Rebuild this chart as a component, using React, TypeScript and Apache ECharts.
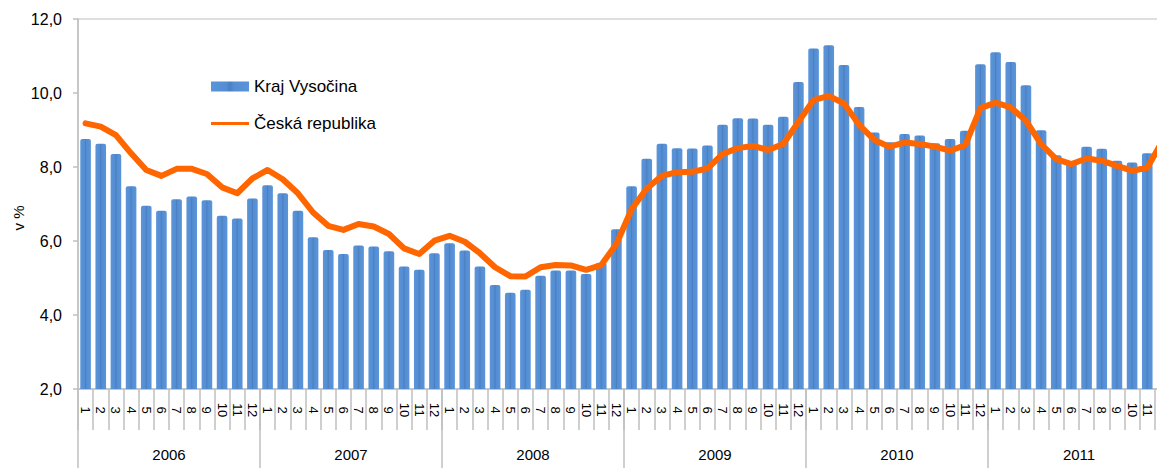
import React, { useEffect, useRef } from "react";
import * as echarts from "echarts";

const years = ["2006", "2007", "2008", "2009", "2010", "2011"];
const monthLabels = ["1", "2", "3", "4", "5", "6", "7", "8", "9", "10", "11", "12"];

const krajVysocina2006 = [8.76, 8.63, 8.35, 7.48, 6.95, 6.82, 7.13, 7.2, 7.1, 6.68, 6.61, 7.15];
const krajVysocina2007 = [7.51, 7.29, 6.82, 6.1, 5.76, 5.65, 5.88, 5.85, 5.72, 5.31, 5.22, 5.67];
const krajVysocina2008 = [5.94, 5.74, 5.31, 4.81, 4.6, 4.68, 5.06, 5.2, 5.2, 5.11, 5.41, 6.32];
const krajVysocina2009 = [7.48, 8.22, 8.63, 8.51, 8.5, 8.58, 9.14, 9.32, 9.31, 9.14, 9.36, 10.3];
const krajVysocina2010 = [11.2, 11.29, 10.76, 9.62, 8.93, 8.67, 8.89, 8.85, 8.64, 8.76, 8.98, 10.78];
const krajVysocina2011 = [11.1, 10.84, 10.21, 8.99, 8.32, 8.1, 8.55, 8.49, 8.17, 8.12, 8.37, 9.2];

const ceskaRepublika2006 = [9.18, 9.09, 8.86, 8.37, 7.92, 7.76, 7.95, 7.95, 7.81, 7.45, 7.29, 7.69];
const ceskaRepublika2007 = [7.92, 7.67, 7.29, 6.77, 6.41, 6.3, 6.46, 6.39, 6.19, 5.8, 5.65, 6.01];
const ceskaRepublika2008 = [6.14, 5.98, 5.67, 5.29, 5.05, 5.04, 5.29, 5.35, 5.34, 5.22, 5.35, 5.92];
const ceskaRepublika2009 = [6.86, 7.42, 7.76, 7.86, 7.87, 7.96, 8.35, 8.51, 8.57, 8.46, 8.62, 9.22];
const ceskaRepublika2010 = [9.81, 9.92, 9.72, 9.14, 8.73, 8.55, 8.66, 8.62, 8.55, 8.44, 8.59, 9.59];
const ceskaRepublika2011 = [9.74, 9.61, 9.25, 8.62, 8.21, 8.08, 8.23, 8.17, 8.03, 7.9, 7.98, 8.7];

const yTicks = { min: 2, max: 12, interval: 2 };

const krajVysocina = [
  ...krajVysocina2006, ...krajVysocina2007, ...krajVysocina2008,
  ...krajVysocina2009, ...krajVysocina2010, ...krajVysocina2011,
];
const ceskaRepublika = [
  ...ceskaRepublika2006, ...ceskaRepublika2007, ...ceskaRepublika2008,
  ...ceskaRepublika2009, ...ceskaRepublika2010, ...ceskaRepublika2011,
];
const months = years.flatMap((y) => monthLabels.map((m) => `${y}-${m}`));

const FONT = "'Liberation Sans', Arial, sans-serif";
const GRAY = "#bfbfbf";

export default function App() {
  const ref = useRef<HTMLDivElement>(null);
  useEffect(() => {
    if (!ref.current) return;
    const chart = echarts.init(ref.current, null, { renderer: "svg" });
    chart.setOption({
      animation: false,
      backgroundColor: "#ffffff",
      textStyle: { fontFamily: FONT },
      grid: {
        left: 78,
        right: 10,
        top: 19,
        bottom: 79,
        show: true,
        borderColor: GRAY,
        borderWidth: 1,
        outerBoundsMode: "none",
      },
      legend: {
        orient: "vertical",
        left: 211,
        top: 78,
        padding: 0,
        itemWidth: 38,
        itemHeight: 10,
        itemGap: 20,
        textStyle: { fontSize: 17, color: "#000", fontFamily: FONT },
        data: [
          { name: "Kraj Vysočina", icon: "rect" },
          { name: "Česká republika", icon: "path://M0,0 L40,0 L40,3.4 L0,3.4 Z" },
        ],
      },
      xAxis: [
        {
          type: "category",
          data: months,
          position: "bottom",
          axisLine: { show: true, lineStyle: { color: GRAY, width: 1.5 } },
          axisTick: {
            show: true,
            interval: 0,
            length: 41,
            lineStyle: { color: GRAY, width: 1.5 },
          },
          axisLabel: {
            interval: (index: number) => index < months.length - 1,
            rotate: -90,
            align: "center",
            verticalAlign: "middle",
            margin: 21,
            fontSize: 13,
            color: "#000",
            fontFamily: FONT,
            formatter: (v: string) => v.split("-")[1],
          },
          splitLine: { show: false },
        },
        {
          type: "category",
          data: years,
          position: "bottom",
          axisLine: { show: false },
          axisTick: {
            show: true,
            interval: 0,
            length: 80,
            lineStyle: { color: GRAY, width: 1.5 },
          },
          axisLabel: {
            interval: 0,
            margin: 58,
            fontSize: 15,
            color: "#000",
            fontFamily: FONT,
          },
          splitLine: { show: false },
        },
      ],
      yAxis: {
        type: "value",
        min: yTicks.min,
        max: yTicks.max,
        interval: yTicks.interval,
        axisLine: { show: true, lineStyle: { color: GRAY, width: 1.5 } },
        axisTick: { show: true, length: 5, lineStyle: { color: GRAY, width: 1.5 } },
        splitLine: { show: false },
        axisLabel: {
          margin: 16,
          fontSize: 16,
          color: "#000",
          fontFamily: FONT,
          formatter: (v: number) => v.toFixed(1).replace(".", ","),
        },
      },
      graphic: [
        {
          type: "text",
          x: 18,
          y: 218,
          rotation: Math.PI / 2,
          style: {
            text: "v %",
            fontSize: 15,
            fontFamily: FONT,
            fill: "#000",
            textAlign: "center",
            textVerticalAlign: "middle",
          },
        },
      ],
      series: [
        {
          name: "Kraj Vysočina",
          type: "bar",
          xAxisIndex: 0,
          data: krajVysocina,
          barCategoryGap: "30%",
          itemStyle: {
            color: new echarts.graphic.LinearGradient(0, 0, 1, 0, [
              { offset: 0, color: "#5b95d9" },
              { offset: 0.4, color: "#548dd2" },
              { offset: 0.5, color: "#4a7fc1" },
              { offset: 0.6, color: "#548dd2" },
              { offset: 1, color: "#5b95d9" },
            ]),
            borderRadius: [2, 2, 0, 0],
          },
        },
        {
          name: "Česká republika",
          type: "line",
          xAxisIndex: 0,
          data: ceskaRepublika,
          symbol: "none",
          smooth: false,
          lineStyle: { color: "#ff6600", width: 6, cap: "round", join: "round" },
          itemStyle: { color: "#ff6600" },
          z: 3,
        },
      ],
    });
    return () => chart.dispose();
  }, []);
  return (
    <div
      style={{
        position: "fixed",
        left: 0,
        top: 0,
        width: 1157,
        height: 468,
        overflow: "hidden",
        background: "#fff",
      }}
    >
      <div ref={ref} style={{ width: 1180, height: 468 }} />
    </div>
  );
}
